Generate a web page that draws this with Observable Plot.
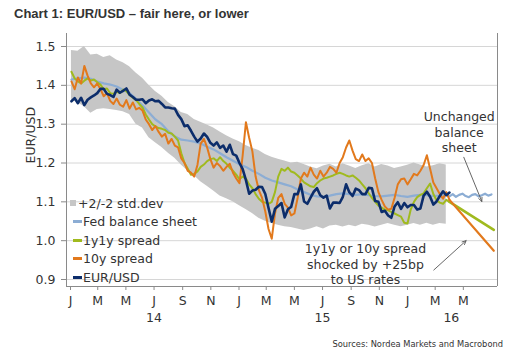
<!DOCTYPE html>
<html><head><meta charset="utf-8">
<script src="https://cdn.jsdelivr.net/npm/d3@7"></script>
<script src="https://cdn.jsdelivr.net/npm/@observablehq/plot@0.6"></script>
<style>
body{margin:0;background:#fff;}
#wrap{position:relative;width:509px;height:350px;overflow:hidden;font-family:"DejaVu Sans",Verdana,sans-serif;color:#333;background:#fff;}
#chart{position:absolute;left:0;top:0;}
#title{position:absolute;left:14px;top:6px;font:bold 13px/15px "Liberation Sans",Arial,sans-serif;color:#333;white-space:nowrap;}
#source{position:absolute;right:6px;top:339px;font-size:8.3px;line-height:10px;color:#333;white-space:nowrap;}
.leg{position:absolute;font-size:12.5px;line-height:15px;white-space:nowrap;color:#333;}
.sw{position:absolute;}
</style></head><body>
<div id="wrap">
  <div id="chart"></div>
  <div id="title">Chart 1: EUR/USD – fair here, or lower</div>
  <div id="legend"></div>
  <div id="source">Sources: Nordea Markets and Macrobond</div>
</div>
<script>
// ---------- data (weekly from 3 Jan 2014 to 1 Apr 2016) ----------
const eurusd = [
 1.359,1.367,1.354,1.368,1.349, 1.363,1.369,1.374,1.380, 1.391,1.391,1.378,1.375, 1.370,1.389,1.381,1.386,
 1.392,1.376,1.370,1.363,1.363, 1.364,1.354,1.361,1.364, 1.359,1.360,1.352,1.343, 1.343,1.341,1.340,1.324,1.313,
 1.295,1.297,1.283,1.268, 1.255,1.263,1.276,1.267,1.252, 1.245,1.253,1.239,1.245, 1.229,1.247,1.223,1.219,
 1.200,1.184,1.156,1.121,1.129, 1.131,1.139,1.138,1.120, 1.084,1.049,1.082,1.089, 1.097,1.060,1.081,1.087,
 1.120,1.120,1.145,1.101,1.095, 1.111,1.126,1.135,1.117, 1.111,1.116,1.083,1.098,1.098, 1.097,1.113,1.145,1.125,
 1.115,1.134,1.130,1.120, 1.120,1.136,1.135,1.102,1.100, 1.074,1.077,1.065,1.059, 1.088,1.099,1.082,1.097,
 1.086,1.092,1.092,1.080,1.083, 1.116,1.126,1.113,1.093, 1.101,1.115,1.127,1.117,1.124
];
const tenY = [
 1.41,1.39,1.42,1.405,1.45,1.425,1.405,1.395,1.405,1.39,
 1.372,1.38,1.36,1.352,1.366,1.35,1.345,1.362,1.34,1.356,
 1.338,1.342,1.335,1.312,1.30,1.285,1.295,1.28,1.268,1.275,
 1.25,1.262,1.245,1.24,1.212,1.20,1.18,1.175,1.165,1.195,
 1.25,1.262,1.24,1.21,1.188,1.2,1.192,1.18,1.19,1.198,
 1.175,1.16,1.148,1.22,1.305,1.265,1.23,1.165,1.13,1.11,
 1.075,1.03,1.005,1.07,1.11,1.12,1.095,1.085,1.065,1.07,
 1.11,1.16,1.175,1.165,1.188,1.17,1.16,1.18,1.165,1.175,
 1.19,1.185,1.175,1.2,1.215,1.24,1.258,1.232,1.21,1.205,
 1.222,1.205,1.212,1.2,1.16,1.125,1.105,1.088,1.08,1.082,
 1.11,1.145,1.158,1.16,1.145,1.158,1.172,1.168,1.18,1.195,
 1.22,1.185,1.15,1.135,1.12,1.108,1.125,1.105
];
const y1y1 = [
 1.435,1.418,1.41,1.405,1.412,1.418,1.412,1.415,1.408,1.402,
 1.39,1.392,1.38,1.378,1.384,1.38,1.389,1.385,1.375,1.368,
 1.362,1.352,1.343,1.325,1.312,1.30,1.294,1.29,1.288,1.285,
 1.278,1.276,1.268,1.258,1.225,1.20,1.185,1.17,1.172,1.178,
 1.19,1.196,1.205,1.21,1.212,1.205,1.215,1.205,1.198,1.188,
 1.18,1.17,1.158,1.165,1.16,1.145,1.135,1.12,1.108,1.1,
 1.098,1.095,1.1,1.125,1.165,1.185,1.18,1.188,1.178,1.175,
 1.168,1.16,1.15,1.145,1.14,1.138,1.148,1.155,1.16,1.162,
 1.165,1.168,1.172,1.175,1.172,1.168,1.165,1.168,1.162,1.155,
 1.145,1.135,1.122,1.11,1.1,1.09,1.085,1.08,1.078,1.074,
 1.07,1.066,1.062,1.046,1.044,1.08,1.1,1.112,1.118,1.122,
 1.135,1.147,1.12,1.104,1.098,1.095,1.105,1.10
];
// fortnightly from 3 Jan 2014 to 25 Mar 2016
const fedModel = [
 1.415,1.418,1.42,1.417,1.41,1.405,1.402,1.397,1.388,1.38,
 1.365,1.348,1.33,1.312,1.30,1.282,1.268,1.26,1.258,1.255,
 1.25,1.242,1.235,1.225,1.215,1.206,1.197,1.19,1.18,1.172,
 1.162,1.155,1.15,1.145,1.14,1.132,1.125,1.118,1.114,1.113,
 1.116,1.12,1.122,1.12,1.118,1.12,1.117,1.115,1.114,1.116,
 1.118,1.115,1.113,1.116,1.118,1.117,1.115,1.116,1.118
];
const bandUpper = [
 1.49,1.488,1.50,1.478,1.48,1.472,1.476,1.465,1.458,1.448,
 1.432,1.418,1.40,1.384,1.372,1.356,1.345,1.33,1.325,1.312,
 1.305,1.298,1.29,1.28,1.27,1.262,1.255,1.245,1.238,1.232,
 1.222,1.215,1.21,1.205,1.2,1.202,1.196,1.19,1.185,1.192,
 1.197,1.19,1.198,1.192,1.186,1.193,1.198,1.19,1.196,1.192,
 1.186,1.19,1.194,1.2,1.195,1.19,1.193,1.198,1.195
];
const bandLower = [
 1.362,1.355,1.345,1.328,1.338,1.34,1.338,1.335,1.332,1.325,
 1.30,1.29,1.265,1.252,1.24,1.225,1.212,1.195,1.18,1.168,
 1.152,1.14,1.128,1.115,1.108,1.1,1.09,1.08,1.07,1.058,
 1.05,1.044,1.04,1.036,1.034,1.03,1.026,1.03,1.036,1.03,
 1.038,1.04,1.035,1.04,1.036,1.042,1.04,1.035,1.04,1.044,
 1.04,1.036,1.04,1.044,1.04,1.045,1.04,1.044,1.042
];
// projections (weekly from 25 Mar 2016)
const fedProj = [1.118,1.114,1.12,1.113,1.118,1.121,1.115,1.112,1.118,1.12,1.114,1.117,1.121,1.116,1.119];
const shockDates = [new Date(Date.UTC(2016,3,1)), new Date(Date.UTC(2016,6,6))];
const y1y1Shock = [1.10, 1.028];
const tenYShock = [1.105, 0.974];

const yTicks = [0.9,1.0,1.1,1.2,1.3,1.4,1.5];
const monthLetters = "JFMAMJJASOND";
const yearTicks = [new Date(Date.UTC(2014,6,1)), new Date(Date.UTC(2015,6,1)), new Date(Date.UTC(2016,3,5))];

const legendItems = ["+2/-2 std.dev","Fed balance sheet","1y1y spread","10y spread","EUR/USD"];
const annotations = [
  {date: new Date(Date.UTC(2016,3,22)), value: 1.281, text: "Unchanged\nbalance\nsheet"},
  {date: new Date(Date.UTC(2015,9,2)), value: 0.9407, text: "1y1y or 10y spread\nshocked by +25bp\nto US rates"}
];
const arrows = [
  {x1: new Date(Date.UTC(2016,4,2)), y1: 1.2147, x2: new Date(Date.UTC(2016,5,10)), y2: 1.101},
  {x1: new Date(Date.UTC(2016,1,27)), y1: 0.9245, x2: new Date(Date.UTC(2016,4,7)), y2: 1.0}
];

// ---------- colours ----------
const C = {band:"#c6c6c6", fed:"#8cadd4", y1y1:"#a0ba1e", tenY:"#e2791c", eur:"#0c2d6b", axis:"#8a8a8a", grid:"#d6d6d6", text:"#333"};

// ---------- tables ----------
const start = new Date(Date.UTC(2014,0,3));
const weekly = eurusd.map((v,i)=>({date:d3.utcDay.offset(start,7*i), eur:v, ten:tenY[i], oneone:y1y1[i]}));
const fortnightly = fedModel.map((v,i)=>({date:d3.utcDay.offset(start,14*i), fed:v, hi:bandUpper[i], lo:bandLower[i]}));
const projStart = d3.utcDay.offset(start,14*(fedModel.length-1));
const fedProjRows = fedProj.map((v,i)=>({date:d3.utcDay.offset(projStart,7*i), fed:v}));
const shockRows = shockDates.map((d,i)=>({date:d, ten:tenYShock[i], oneone:y1y1Shock[i]}));

const xDomain = [new Date(Date.UTC(2013,11,23,8)), new Date(Date.UTC(2016,6,14))];
const yDomain = [0.882, 1.5335];
const monthTicks = d3.utcMonth.every(2).range(new Date(Date.UTC(2014,0,1)), new Date(Date.UTC(2016,5,2)));

const chart = Plot.plot({
  width: 509, height: 350,
  marginLeft: 66, marginRight: 12, marginTop: 33, marginBottom: 64,
  style: {fontFamily: '"DejaVu Sans", Verdana, sans-serif', fontSize: "12.5px", color: C.text, background: "transparent"},
  x: {type: "utc", domain: xDomain},
  y: {domain: yDomain},
  marks: [
    Plot.gridY({ticks: yTicks, stroke: C.grid, strokeOpacity: 1}),
    Plot.areaY(fortnightly, {x: "date", y1: "lo", y2: "hi", fill: C.band, curve: "linear"}),
    Plot.lineY(fortnightly, {x: "date", y: "fed", stroke: C.fed, strokeWidth: 2.2}),
    Plot.lineY(fedProjRows, {x: "date", y: "fed", stroke: C.fed, strokeWidth: 2.2}),
    Plot.lineY(weekly, {x: "date", y: "oneone", stroke: C.y1y1, strokeWidth: 2}),
    Plot.lineY(shockRows, {x: "date", y: "oneone", stroke: C.y1y1, strokeWidth: 2.6}),
    Plot.lineY(weekly, {x: "date", y: "ten", stroke: C.tenY, strokeWidth: 2}),
    Plot.lineY(shockRows, {x: "date", y: "ten", stroke: C.tenY, strokeWidth: 2.2}),
    Plot.lineY(weekly, {x: "date", y: "eur", stroke: C.eur, strokeWidth: 2.6}),
    Plot.ruleX([xDomain[0], xDomain[1]], {stroke: C.axis}),
    Plot.ruleY([yDomain[0]], {stroke: C.axis}),
    Plot.axisY({ticks: yTicks, tickFormat: d3.format(".1f"), tickSize: 5, tickPadding: 6, label: null, stroke: C.axis}),
    Plot.axisX({ticks: monthTicks, tickFormat: d => monthLetters[d.getUTCMonth()], tickSize: 4, tickPadding: 6, label: null, stroke: C.axis}),
    Plot.axisX({ticks: yearTicks, tickFormat: d => String(d.getUTCFullYear()).slice(2), tickSize: 0, tickPadding: 27, label: null}),
    Plot.text(["EUR/USD"], {frameAnchor: "left", text: d => d, rotate: -90, dx: -36, dy: 3.5, fontSize: 12.5, fill: C.text}),
    Plot.text(annotations, {x: "date", y: "value", text: "text", lineAnchor: "middle", lineHeight: 1.25, fontSize: 12.5, fill: C.text}),
    Plot.arrow(arrows, {x1: "x1", y1: "y1", x2: "x2", y2: "y2", stroke: "#555", strokeWidth: 0.9, headLength: 7, headAngle: 50})
  ]
});
document.getElementById("chart").appendChild(chart);

// ---------- legend ----------
const legendColors = [C.band, C.fed, C.y1y1, C.tenY, C.eur];
const baselines = [207.5, 226, 244.5, 263, 281.5];
const lg = document.getElementById("legend");
legendItems.forEach((label, i) => {
  const cy = baselines[i] - 4.5;
  const sw = document.createElement("div");
  sw.className = "sw";
  if (i === 0) {
    Object.assign(sw.style, {left: "70px", top: (cy - 3) + "px", width: "6px", height: "6px", background: legendColors[i]});
  } else {
    Object.assign(sw.style, {left: "73px", top: (cy - 1.5) + "px", width: "9px", height: "3px", background: legendColors[i]});
  }
  lg.appendChild(sw);
  const t = document.createElement("div");
  t.className = "leg";
  t.textContent = label;
  t.style.left = (i === 0 ? 78 : 83) + "px";
  t.style.top = (baselines[i] - 11.8) + "px";
  lg.appendChild(t);
});
</script>
</body></html>
